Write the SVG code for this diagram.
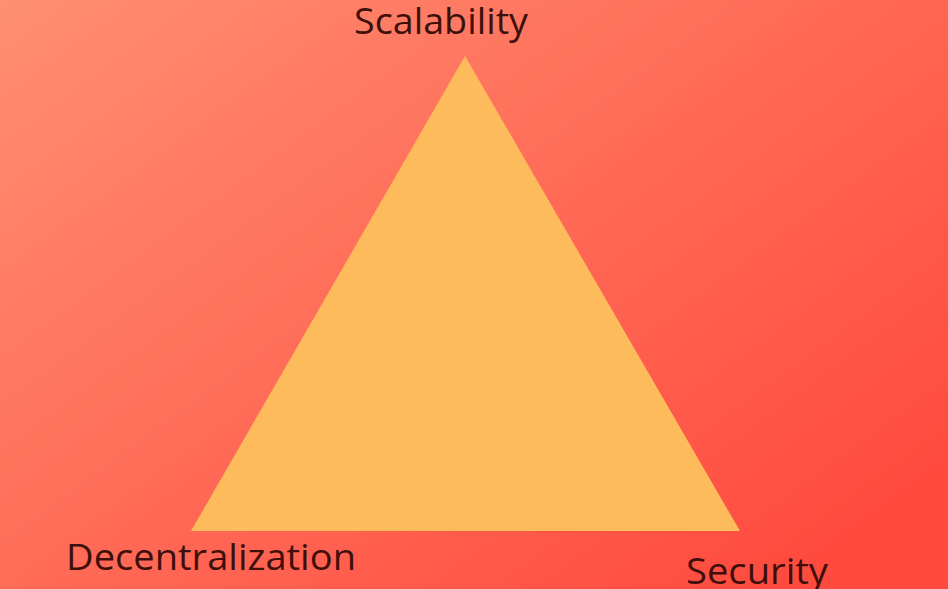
<svg xmlns="http://www.w3.org/2000/svg" width="948" height="589" viewBox="0 0 948 589">
<defs>
<linearGradient id="bg" x1="0" y1="0" x2="560" y2="760" gradientUnits="userSpaceOnUse">
<stop offset="0" stop-color="#FF8F72"/>
<stop offset="0.5" stop-color="#FF6C58"/>
<stop offset="1" stop-color="#FF4A3E"/>
</linearGradient>
<style>
.lbl{font-family:"Open Sans","Noto Sans",sans-serif;fill:#3E0F0B;}
</style>
</defs>
<rect width="948" height="589" fill="url(#bg)"/>
<g id="triangle">
<polygon points="465,56 191,531 740,531" fill="#FDBB5C"/>
</g>
<g id="connectors"></g>
<g id="scalability"><text class="lbl" x="441" y="34" font-size="37" text-anchor="middle" textLength="174" lengthAdjust="spacingAndGlyphs">Scalability</text></g>
<g id="decentralization"><text class="lbl" x="66" y="570" font-size="37" textLength="290" lengthAdjust="spacingAndGlyphs">Decentralization</text></g>
<g id="security"><text class="lbl" x="686" y="584" font-size="36" textLength="142" lengthAdjust="spacingAndGlyphs">Security</text></g>
</svg>
